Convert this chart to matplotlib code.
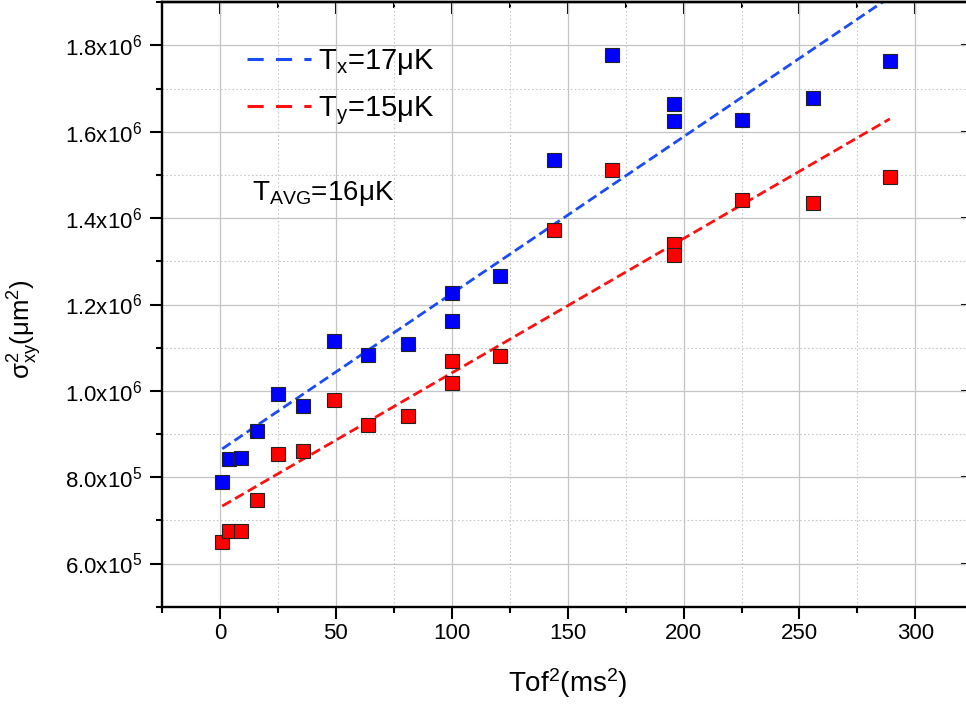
import numpy as np
import matplotlib
matplotlib.use("Agg")
from matplotlib import pyplot as plt
from matplotlib.lines import Line2D
from matplotlib.ticker import MultipleLocator, FuncFormatter

plt.rcParams["font.family"] = ["Liberation Sans", "DejaVu Sans"]
plt.rcParams["mathtext.fontset"] = "custom"
plt.rcParams["mathtext.rm"] = "Liberation Sans"
plt.rcParams["mathtext.it"] = "Liberation Sans:italic"
plt.rcParams["mathtext.default"] = "regular"

# time of flight squared (ms^2) and cloud widths squared (um^2)
tof2 = [1, 4, 9, 16, 25, 36, 49, 64, 81, 100, 100, 121, 144, 169, 196, 196, 225, 256, 289]
sigma_x2 = [7.88e5, 8.41e5, 8.44e5, 9.08e5, 9.92e5, 9.65e5, 1.115e6, 1.084e6, 1.109e6,
            1.226e6, 1.162e6, 1.265e6, 1.534e6, 1.778e6, 1.664e6, 1.625e6, 1.628e6,
            1.678e6, 1.765e6]
sigma_y2 = [6.49e5, 6.76e5, 6.75e5, 7.46e5, 8.53e5, 8.61e5, 9.79e5, 9.20e5, 9.41e5,
            1.018e6, 1.068e6, 1.080e6, 1.372e6, 1.511e6, 1.339e6, 1.314e6, 1.441e6,
            1.434e6, 1.496e6]

# linear fits sigma^2 = a + b*t^2
fit_x = (8.62e5, 3633.0)
fit_y = (7.30e5, 3114.0)
fit_labels = [r"T$_{x}$=17μK", r"T$_{y}$=15μK"]
avg_label = r"T$_{AVG}$=16μK"

fig = plt.figure(figsize=(9.66, 7.08), dpi=100)
ax = fig.add_axes([162 / 966, 101.3 / 708, 811.3 / 966, 604.4 / 708])

ax.set_xlim(-25, 325)
ax.set_ylim(5e5, 1.9e6)

ax.grid(which="major", color="#c4c4c4", lw=0.9, zorder=0)
ax.grid(which="minor", color="#c8c8c8", lw=0.8, ls=(0, (1.5, 2)), zorder=0)
ax.set_axisbelow(True)

t = np.array([tof2[0], tof2[-1]], dtype=float)
ax.plot(t, fit_x[0] + fit_x[1] * t, color="#1a4cf5", lw=2.0, dashes=(3.6, 1.7), zorder=2)
ax.plot(t, fit_y[0] + fit_y[1] * t, color="#ff1010", lw=2.0, dashes=(3.6, 1.7), zorder=2)

ax.plot(tof2, sigma_x2, "s", ms=9.4, mfc="#0000ff", mec="#222222", mew=0.8, zorder=3)
ax.plot(tof2, sigma_y2, "s", ms=9.4, mfc="#ff0000", mec="#222222", mew=0.8, zorder=3)

handles = [Line2D([], [], color="#1a4cf5", lw=2.2, dashes=(5.3, 4)),
           Line2D([], [], color="#ff1010", lw=2.2, dashes=(5.3, 4))]
ax.legend(handles, fit_labels, loc="center left", bbox_to_anchor=(0.1048, 0.8594),
          frameon=False, fontsize=21, handlelength=2.2, handletextpad=0.25,
          borderpad=0, borderaxespad=0, labelspacing=0.58)

ax.text(0.1106, 0.673, avg_label, transform=ax.transAxes, fontsize=20, va="baseline")


def sci(v, pos):
    e = int(np.floor(np.log10(v)))
    return "%.1fx10$^{%d}$" % (v / 10 ** e, e)


ax.xaxis.set_major_locator(MultipleLocator(50))
ax.xaxis.set_minor_locator(MultipleLocator(25))
ax.yaxis.set_major_locator(MultipleLocator(2e5))
ax.yaxis.set_minor_locator(MultipleLocator(1e5))
ax.yaxis.set_major_formatter(FuncFormatter(sci))

ax.tick_params(which="both", direction="out", width=1.5, labelsize=16, top=False, right=False)
ax.tick_params(which="major", length=8.5)
ax.tick_params(which="minor", length=4.5)
ax.tick_params(axis="x", pad=3.5)
ax.tick_params(axis="y", pad=6)

for s in ax.spines.values():
    s.set_linewidth(1.7)

top = ax.secondary_xaxis("top")
top.xaxis.set_major_locator(MultipleLocator(50))
top.xaxis.set_minor_locator(MultipleLocator(25))
top.tick_params(which="both", direction="in", width=1.5, labeltop=False)
top.tick_params(which="major", length=8.5)
top.tick_params(which="minor", length=4.5)
top.spines["top"].set_linewidth(1.7)

right = ax.secondary_yaxis("right")
right.yaxis.set_major_locator(MultipleLocator(2e5))
right.yaxis.set_minor_locator(MultipleLocator(1e5))
right.tick_params(which="major", direction="in", width=1.5, length=8.5, labelright=False)
right.tick_params(which="minor", length=0)
right.spines["right"].set_linewidth(1.7)

ax.set_xlabel(r"Tof$^{2}$(ms$^{2}$)", fontsize=20)
ax.xaxis.set_label_coords(0.5004, -0.098)
ax.set_ylabel(r"$σ^{2}_{xy}$(μm$^{2}$)", fontsize=18.5)
ax.yaxis.set_label_coords(-0.1454, 0.4586)

fig.savefig("out.png", dpi=100)
